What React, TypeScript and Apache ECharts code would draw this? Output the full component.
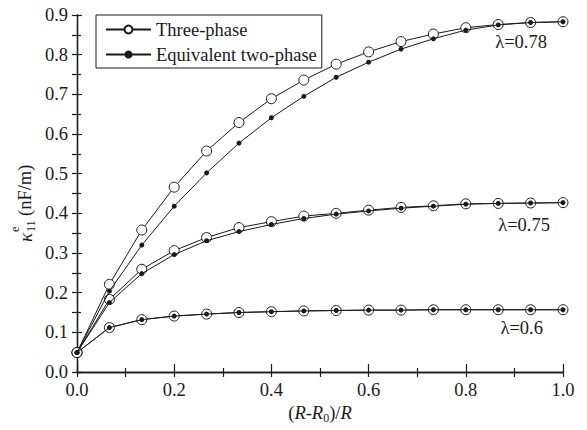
import React, { useEffect, useRef } from "react";
import * as echarts from "echarts";

const xValues = [0, 0.0667, 0.1333, 0.2, 0.2667, 0.3333, 0.4, 0.4667, 0.5333, 0.6, 0.6667, 0.7333, 0.8, 0.8667, 0.9333, 1.0];
const three078 = [0.049, 0.221, 0.358, 0.466, 0.557, 0.629, 0.689, 0.736, 0.776, 0.807, 0.833, 0.852, 0.868, 0.876, 0.881, 0.883];
const two078 = [0.049, 0.204, 0.320, 0.418, 0.502, 0.577, 0.641, 0.695, 0.743, 0.781, 0.814, 0.840, 0.862, 0.875, 0.881, 0.883];
const three075 = [0.049, 0.183, 0.259, 0.306, 0.339, 0.364, 0.379, 0.393, 0.400, 0.408, 0.415, 0.419, 0.424, 0.425, 0.426, 0.427];
const two075 = [0.049, 0.175, 0.248, 0.296, 0.331, 0.354, 0.372, 0.387, 0.398, 0.406, 0.413, 0.418, 0.423, 0.425, 0.426, 0.427];
const three060 = [0.049, 0.112, 0.132, 0.141, 0.146, 0.150, 0.152, 0.154, 0.155, 0.156, 0.156, 0.157, 0.157, 0.157, 0.157, 0.157];
const two060 = [0.049, 0.112, 0.132, 0.141, 0.146, 0.150, 0.152, 0.154, 0.155, 0.156, 0.156, 0.157, 0.157, 0.157, 0.157, 0.157];
const legendNames = ["Three-phase", "Equivalent two-phase"];
const curveLabels = ["λ=0.78", "λ=0.75", "λ=0.6"];

const FONT = "Times New Roman, Liberation Serif, DejaVu Serif, serif";
const FS = 18.5;
const INK = "#1a1a1a";

const pairs = (ys: number[]) => xValues.map((x, i) => [x, ys[i]]);

export default function App() {
  const ref = useRef<HTMLDivElement>(null);
  useEffect(() => {
    if (!ref.current) return;
    const chart = echarts.init(ref.current, undefined, { renderer: "svg" });

    const threeSeries = (ys: number[]) => ({
      type: "line",
      name: legendNames[0],
      data: pairs(ys),
      symbol: "circle",
      symbolSize: 10,
      lineStyle: { color: INK, width: 1 },
      itemStyle: { color: "#ffffff", borderColor: INK, borderWidth: 1 },
      z: 2,
    });
    const twoSeries = (ys: number[]) => ({
      type: "line",
      name: legendNames[1],
      data: pairs(ys),
      symbol: "circle",
      symbolSize: 5,
      lineStyle: { color: INK, width: 1 },
      itemStyle: { color: INK, borderColor: INK, borderWidth: 0 },
      z: 10,
    });

    chart.setOption({
      animation: false,
      backgroundColor: "#fff",
      grid: { left: 77, right: 24, top: 15, bottom: 58 },
      legend: {
        data: legendNames,
        orient: "vertical",
        left: 96,
        top: 15,
        borderColor: INK,
        borderWidth: 1,
        padding: [5, 5, 4, 9],
        itemWidth: 45,
        itemHeight: 10,
        itemGap: 6,
        backgroundColor: "#fff",
        textStyle: { fontFamily: FONT, fontSize: FS, color: INK },
      },
      xAxis: [
        {
          type: "value",
          min: 0,
          max: 1,
          interval: 0.2,
          position: "bottom",
          axisLine: { show: true, lineStyle: { color: INK, width: 1.3 } },
          axisTick: { show: true, inside: true, length: 8, lineStyle: { color: INK, width: 1.2 } },
          minorTick: { show: true, splitNumber: 2, length: 4, lineStyle: { color: INK, width: 1.2 } },
          splitLine: { show: false },
          axisLabel: {
            margin: 8,
            fontFamily: FONT,
            fontSize: FS,
            color: INK,
            formatter: (v: number) => v.toFixed(1),
          },
          name: "{p|(}{i|R}{p|-}{i|R}{s|0}{p|)/}{i|R}",
          nameLocation: "middle",
          nameGap: 30,
          nameTextStyle: {
            fontFamily: FONT,
            rich: {
              p: { fontFamily: FONT, fontSize: FS, color: INK },
              i: { fontFamily: FONT, fontSize: FS, fontStyle: "italic", color: INK },
              s: { fontFamily: FONT, fontSize: 12, color: INK, padding: [10, 0, 0, 0] },
            },
          },
        },
        {
          type: "value",
          min: 0,
          max: 1,
          interval: 0.1,
          position: "top",
          axisLine: { show: true, lineStyle: { color: INK, width: 1.3 } },
          axisTick: { show: true, inside: true, length: 5, lineStyle: { color: INK, width: 1.2 } },
          axisLabel: { show: false },
          splitLine: { show: false },
        },
      ],
      yAxis: [
        {
          type: "value",
          min: 0,
          max: 0.9,
          interval: 0.1,
          position: "left",
          axisLine: { show: true, lineStyle: { color: INK, width: 1.3 } },
          axisTick: { show: true, inside: true, length: 5, lineStyle: { color: INK, width: 1.2 } },
          minorTick: { show: true, splitNumber: 2, length: 4, lineStyle: { color: INK, width: 1.2 } },
          splitLine: { show: false },
          axisLabel: {
            margin: 9,
            fontFamily: FONT,
            fontSize: FS,
            color: INK,
            formatter: (v: number) => v.toFixed(1),
          },
        },
        {
          type: "value",
          min: 0,
          max: 0.9,
          interval: 0.05,
          position: "right",
          axisLine: { show: true, lineStyle: { color: INK, width: 1.3 } },
          axisTick: { show: true, inside: true, length: 5, lineStyle: { color: INK, width: 1.2 } },
          axisLabel: { show: false },
          splitLine: { show: false },
        },
      ],
      series: [
        threeSeries(three078),
        threeSeries(three075),
        threeSeries(three060),
        twoSeries(two078),
        twoSeries(two075),
        twoSeries(two060),
      ],
      graphic: [
        {
          type: "group",
          x: 25,
          y: 204,
          rotation: Math.PI / 2,
          children: [
            {
              type: "text",
              x: -38,
              y: 0,
              style: { text: "κ", fontFamily: FONT, fontSize: 19, fontStyle: "italic", fill: INK, textAlign: "left", textVerticalAlign: "middle" },
            },
            {
              type: "text",
              x: -28,
              y: 6,
              style: { text: "11", fontFamily: FONT, fontSize: 12, fill: INK, textAlign: "left", textVerticalAlign: "middle" },
            },
            {
              type: "text",
              x: -28,
              y: -10,
              style: { text: "e", fontFamily: FONT, fontSize: 12, fill: INK, textAlign: "left", textVerticalAlign: "middle" },
            },
            {
              type: "text",
              x: -12,
              y: 0,
              style: { text: "(nF/m)", fontFamily: FONT, fontSize: FS, fill: INK, textAlign: "left", textVerticalAlign: "middle" },
            },
          ],
        },
        {
          type: "text",
          x: 547,
          y: 42,
          style: { text: curveLabels[0], fontFamily: FONT, fontSize: FS, fill: INK, textAlign: "right", textVerticalAlign: "middle" },
        },
        {
          type: "text",
          x: 550,
          y: 225,
          style: { text: curveLabels[1], fontFamily: FONT, fontSize: FS, fill: INK, textAlign: "right", textVerticalAlign: "middle" },
        },
        {
          type: "text",
          x: 543,
          y: 328,
          style: { text: curveLabels[2], fontFamily: FONT, fontSize: FS, fill: INK, textAlign: "right", textVerticalAlign: "middle" },
        },
      ],
    });
    return () => chart.dispose();
  }, []);
  return (
    <div
      ref={ref}
      style={{ position: "fixed", left: 0, top: 0, width: 587, height: 430, background: "#fff" }}
    />
  );
}
